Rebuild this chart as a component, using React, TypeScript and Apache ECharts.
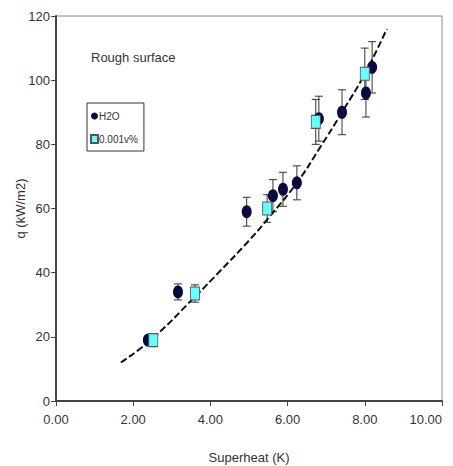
import React, { useEffect, useRef } from "react";
import * as echarts from "echarts";

// [superheat K, q kW/m2, error]
const h2oData: number[][] = [
  [2.38, 19, 1.2],
  [3.16, 34, 2.5],
  [4.94, 59, 4.5],
  [5.62, 64, 5],
  [5.88, 66, 5.3],
  [6.24, 68, 5.3],
  [6.81, 88, 7],
  [7.41, 90, 7],
  [8.03, 96, 7.5],
  [8.19, 104, 8],
];
const nanoData: number[][] = [
  [2.52, 19, 1],
  [3.6, 33.5, 2.7],
  [5.47, 60, 4.3],
  [6.73, 87, 7],
  [8.0, 102, 8],
];
const fitCurve: number[][] = [
  [1.68, 12],
  [2.5, 19.5],
  [3.6, 32.5],
  [4.25, 40.5],
  [5.0, 50],
  [5.5, 57],
  [6.24, 68],
  [6.84, 79],
  [7.41, 90],
  [8.0, 102],
  [8.57, 116],
];
const xTicks = { min: 0, max: 10, interval: 2 };
const yTicks = { min: 0, max: 120, interval: 20 };

const FONT = "'Liberation Sans Narrow', 'Liberation Sans', Arial, sans-serif";

function errorBars(data: number[][]) {
  return {
    type: "custom",
    silent: true,
    z: 1,
    renderItem: (params: any, api: any) => {
      const x = api.value(0);
      const y = api.value(1);
      const e = api.value(2);
      const top = api.coord([x, y + e]);
      const bot = api.coord([x, y - e]);
      const w = 4;
      const style = { stroke: "#333", lineWidth: 1 };
      return {
        type: "group",
        children: [
          { type: "line", shape: { x1: top[0], y1: top[1], x2: bot[0], y2: bot[1] }, style },
          { type: "line", shape: { x1: top[0] - w, y1: top[1], x2: top[0] + w, y2: top[1] }, style },
          { type: "line", shape: { x1: bot[0] - w, y1: bot[1], x2: bot[0] + w, y2: bot[1] }, style },
        ],
      };
    },
    data,
  };
}

export default function App() {
  const ref = useRef<HTMLDivElement>(null);
  useEffect(() => {
    if (!ref.current) return;
    const chart = echarts.init(ref.current, null, { renderer: "svg" });
    chart.setOption({
      animation: false,
      backgroundColor: "#fff",
      textStyle: { fontFamily: FONT },
      grid: {
        left: 56,
        right: 11,
        top: 16,
        bottom: 65,
        outerBoundsMode: "none",
        containLabel: false,
        show: true,
        borderColor: "#888",
        borderWidth: 1,
        backgroundColor: "transparent",
      },
      title: {
        text: "Rough surface",
        left: 86,
        top: 46,
        textStyle: { fontFamily: FONT, fontSize: 13, fontWeight: "normal", color: "#333" },
      },
      legend: {
        orient: "vertical",
        left: 87,
        top: 103,
        borderColor: "#333",
        borderWidth: 1,
        padding: [8, 6, 7, 3],
        itemGap: 13,
        itemWidth: 7,
        itemHeight: 8,
        textStyle: { fontFamily: FONT, fontSize: 10, color: "#333", padding: [0, 0, 0, -4] },
        data: [
          { name: "H2O", icon: "circle" },
          { name: "0.001v%", icon: "rect" },
        ],
      },
      xAxis: {
        type: "value",
        ...xTicks,
        name: "Superheat (K)",
        nameLocation: "middle",
        nameGap: 50,
        nameMoveOverlap: false,
        nameTextStyle: { fontFamily: FONT, fontSize: 13, color: "#333" },
        axisLine: { show: true, lineStyle: { color: "#444", width: 2 } },
        axisTick: { show: true, length: 5, lineStyle: { color: "#444" } },
        axisLabel: {
          fontFamily: FONT,
          fontSize: 13,
          color: "#333",
          margin: 12,
          alignMaxLabel: "right",
          formatter: (v: number) => v.toFixed(2),
        },
        splitLine: { show: false },
      },
      yAxis: {
        type: "value",
        ...yTicks,
        name: "q (kW/m2)",
        nameLocation: "middle",
        nameGap: 29,
        nameMoveOverlap: false,
        nameTextStyle: { fontFamily: FONT, fontSize: 13, color: "#333" },
        axisLine: { show: true, lineStyle: { color: "#444", width: 2 } },
        axisTick: { show: true, length: 5, lineStyle: { color: "#444" } },
        axisLabel: { fontFamily: FONT, fontSize: 13, color: "#333", margin: 6 },
        splitLine: { show: false },
      },
      series: [
        {
          type: "line",
          name: "fit",
          data: fitCurve,
          smooth: true,
          showSymbol: false,
          silent: true,
          z: 3,
          lineStyle: { color: "#111", width: 2, type: [7, 3] },
        },
        errorBars(h2oData),
        errorBars(nanoData),
        {
          type: "scatter",
          name: "H2O",
          data: h2oData.map((d) => [d[0], d[1]]),
          symbol: "circle",
          symbolSize: [10, 13],
          z: 4,
          itemStyle: { color: "#0a0a40", borderColor: "#0a0a40", borderWidth: 0, opacity: 1 },
        },
        {
          type: "scatter",
          name: "0.001v%",
          data: nanoData.map((d) => [d[0], d[1]]),
          symbol: "rect",
          symbolSize: [9, 13],
          z: 5,
          itemStyle: { color: "#66ffff", borderColor: "#555", borderWidth: 1, opacity: 1 },
        },
      ],
    });
    return () => chart.dispose();
  }, []);
  return <div ref={ref} style={{ width: 453, height: 466, position: "absolute", left: 0, top: 0 }} />;
}
